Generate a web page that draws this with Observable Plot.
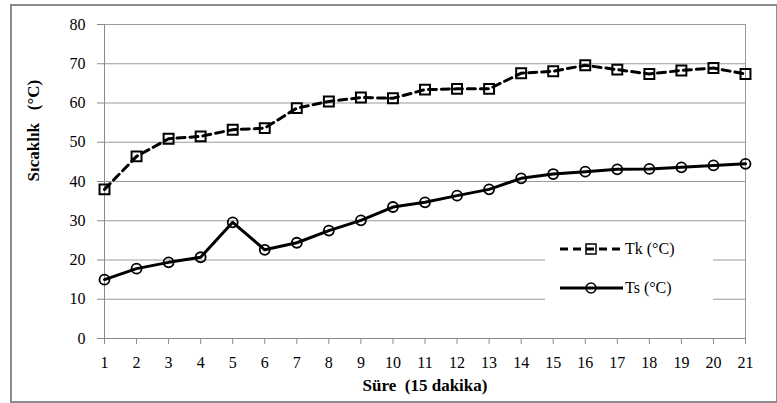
<!DOCTYPE html>
<html><head><meta charset="utf-8">
<script src="https://cdn.jsdelivr.net/npm/d3@7"></script>
<script src="https://cdn.jsdelivr.net/npm/@observablehq/plot@0.6"></script>
<style>
body{margin:0;background:#fff;position:relative;width:777px;height:403px;overflow:hidden;}
#border{position:absolute;left:10px;top:4px;width:764px;height:395px;border:2px solid #8c8c8c;pointer-events:none;}
#legend{position:absolute;left:545px;top:229px;width:168px;height:92px;background:#fff;}
</style></head><body>
<script>
const periods = [1,2,3,4,5,6,7,8,9,10,11,12,13,14,15,16,17,18,19,20,21];
const tk = [38,46.4,50.9,51.5,53.2,53.6,58.7,60.4,61.4,61.2,63.4,63.6,63.6,67.6,68.1,69.6,68.5,67.4,68.3,68.9,67.4];
const ts = [15,17.8,19.4,20.7,29.6,22.6,24.4,27.5,30.1,33.5,34.7,36.4,38.0,40.8,41.9,42.5,43.1,43.2,43.6,44.1,44.5];
const yTicks = [0,10,20,30,40,50,60,70,80];
const seriesNames = ["Tk (°C)","Ts (°C)"];
const xTitle = "Süre  (15 dakika)";
const yTitle = "Sıcaklık   (°C)";

const tkData = periods.map((p,i)=>({p, v: tk[i]}));
const tsData = periods.map((p,i)=>({p, v: ts[i]}));

const chart = Plot.plot({
  width: 777, height: 403,
  marginLeft: 104, marginRight: 32, marginTop: 24, marginBottom: 65,
  style: {fontFamily: "Liberation Serif", fontSize: "16px"},
  x: {type: "linear", domain: [1,21]},
  y: {domain: [0,80]},
  marks: [
    Plot.gridY(yTicks, {stroke: "#9a9a9a", strokeOpacity: 1}),
    Plot.ruleX([21], {stroke: "#9a9a9a"}),
    Plot.ruleX([1], {stroke: "#8a8a8a"}),
    Plot.ruleY([0], {stroke: "#8a8a8a"}),
    Plot.axisY(yTicks, {tickSize: 7, tickPadding: 12, label: null, stroke: "#8a8a8a", fill: "#000", fontSize: 16}),
    Plot.axisX(periods, {tickSize: 6, tickPadding: 12, label: null, stroke: "#8a8a8a", fill: "#000", fontSize: 16, tickFormat: d => String(d)}),
    Plot.line(tkData, {x: "p", y: "v", stroke: "#000", strokeWidth: 3, strokeDasharray: "8,5"}),
    Plot.dot(tkData, {x: "p", y: "v", symbol: "square", r: 5.6, stroke: "#000", strokeWidth: 2, fill: "none"}),
    Plot.line(tsData, {x: "p", y: "v", stroke: "#000", strokeWidth: 3}),
    Plot.dot(tsData, {x: "p", y: "v", symbol: "circle", r: 5, stroke: "#000", strokeWidth: 1.8, fill: "none"}),
    Plot.text([xTitle], {frameAnchor: "bottom", dy: 52, fontWeight: "bold", fontSize: 17, fontFamily: "Liberation Serif", fill: "#000"}),
    Plot.text([yTitle], {frameAnchor: "left", rotate: -90, dx: -71, fontWeight: "bold", fontSize: 17, fontFamily: "Liberation Serif", fill: "#000"})
  ]
});
document.body.appendChild(chart);

const leg = document.createElement("div");
leg.id = "legend";
leg.innerHTML = `<svg width="168" height="92" style="font-family:'Liberation Serif';font-size:16px">
  <line x1="15" x2="78" y1="20" y2="20" stroke="#000" stroke-width="3" stroke-dasharray="8,5"/>
  <rect x="41" y="15" width="10" height="10" fill="none" stroke="#000" stroke-width="1.5"/>
  <text x="80" y="25">${seriesNames[0]}</text>
  <line x1="15" x2="78" y1="59" y2="59" stroke="#000" stroke-width="3"/>
  <circle cx="46" cy="59" r="5" fill="none" stroke="#000" stroke-width="1.5"/>
  <text x="80" y="64">${seriesNames[1]}</text>
</svg>`;
document.body.appendChild(leg);
const b = document.createElement("div");
b.id = "border";
document.body.appendChild(b);
</script>
</body></html>
